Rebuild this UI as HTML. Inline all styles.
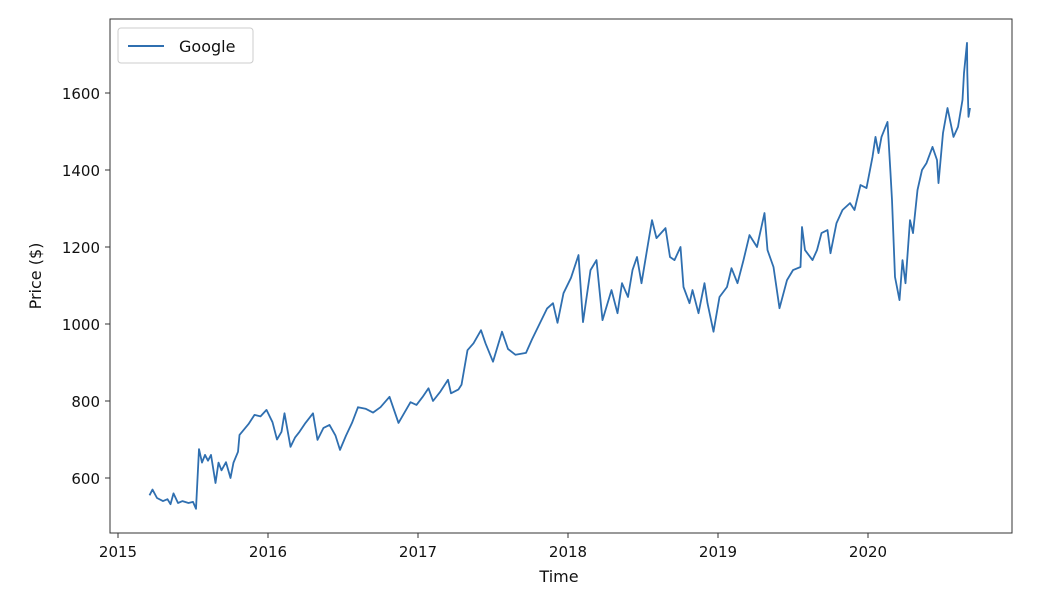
<!DOCTYPE html>
<html><head><meta charset="utf-8"><style>
body{margin:0;background:#fff;width:1042px;height:600px;overflow:hidden}
svg{font-family:"DejaVu Sans","Liberation Sans",sans-serif}
</style></head><body>
<svg id="chart" width="1042" height="600" viewBox="0 0 1042 600">
<rect x="110" y="19" width="902" height="514" fill="#fff" stroke="#333" stroke-width="1"/>
<g id="xt"></g>
<g id="yt"></g>
<path id="line" fill="none" stroke="#2f6fb0" stroke-width="1.8" stroke-linejoin="round"/>
<text x="559" y="582" font-size="16" text-anchor="middle" fill="#111">Time</text>
<text x="41" y="276" font-size="16" text-anchor="middle" fill="#111" transform="rotate(-90 41 276)">Price ($)</text>
<g>
<rect x="118" y="28" width="135" height="35" rx="3" fill="#fff" stroke="#ccc"/>
<line x1="128" y1="46" x2="164" y2="46" stroke="#2f6fb0" stroke-width="2"/>
<text x="179" y="52" font-size="16" fill="#111">Google</text>
</g>
</svg>
<script>
const dates=[2015.21,2015.23,2015.26,2015.30,2015.33,2015.35,2015.37,2015.40,2015.43,2015.47,2015.50,2015.52,2015.54,2015.56,2015.58,2015.60,2015.62,2015.65,2015.67,2015.69,2015.72,2015.75,2015.77,2015.80,2015.81,2015.87,2015.91,2015.95,2015.99,2016.03,2016.06,2016.09,2016.11,2016.15,2016.18,2016.21,2016.25,2016.30,2016.33,2016.37,2016.41,2016.45,2016.48,2016.52,2016.56,2016.60,2016.65,2016.70,2016.75,2016.81,2016.87,2016.91,2016.95,2016.99,2017.03,2017.07,2017.10,2017.15,2017.20,2017.22,2017.27,2017.29,2017.33,2017.37,2017.42,2017.45,2017.50,2017.56,2017.60,2017.65,2017.72,2017.76,2017.81,2017.86,2017.90,2017.93,2017.97,2018.02,2018.07,2018.10,2018.15,2018.19,2018.23,2018.29,2018.33,2018.36,2018.40,2018.43,2018.46,2018.49,2018.53,2018.56,2018.59,2018.65,2018.68,2018.71,2018.75,2018.77,2018.81,2018.83,2018.87,2018.91,2018.93,2018.97,2019.01,2019.06,2019.09,2019.13,2019.17,2019.21,2019.26,2019.31,2019.33,2019.37,2019.41,2019.46,2019.50,2019.55,2019.56,2019.58,2019.63,2019.66,2019.69,2019.73,2019.75,2019.79,2019.83,2019.88,2019.91,2019.95,2019.99,2020.03,2020.05,2020.07,2020.09,2020.13,2020.15,2020.16,2020.18,2020.21,2020.23,2020.25,2020.28,2020.30,2020.33,2020.36,2020.39,2020.43,2020.46,2020.47,2020.50,2020.53,2020.57,2020.60,2020.63,2020.64,2020.66,2020.662,2020.67,2020.68];
const prices=[555,570,548,540,545,532,560,535,540,535,538,520,675,640,660,645,660,587,640,620,641,600,640,668,712,740,764,760,777,745,700,720,768,681,705,720,743,768,699,730,738,710,673,710,743,784,780,770,784,811,743,770,797,790,810,833,800,825,855,820,830,842,932,950,984,950,902,980,935,920,925,960,1000,1040,1054,1003,1080,1120,1179,1005,1140,1166,1010,1088,1028,1106,1070,1140,1174,1106,1200,1270,1223,1249,1174,1166,1200,1096,1054,1088,1028,1106,1054,980,1070,1096,1145,1106,1166,1231,1200,1288,1192,1148,1041,1114,1140,1148,1252,1192,1166,1192,1236,1244,1184,1262,1296,1314,1296,1361,1353,1434,1486,1444,1486,1525,1392,1322,1122,1062,1166,1106,1270,1236,1348,1400,1418,1460,1426,1366,1496,1561,1486,1512,1582,1652,1730,1652,1538,1561];
const yTicks=[600,800,1000,1200,1400,1600];
const xTicks=[2015,2016,2017,2018,2019,2020];
const X=v=>118+(v-2015)*150;
const Y=v=>478-(v-600)*0.385;
const ns="http://www.w3.org/2000/svg";
const xt=document.getElementById('xt'),yt=document.getElementById('yt');
xTicks.forEach(t=>{
 const l=document.createElementNS(ns,'line');
 l.setAttribute('x1',X(t));l.setAttribute('x2',X(t));l.setAttribute('y1',533);l.setAttribute('y2',538);l.setAttribute('stroke','#333');
 
 
 xt.appendChild(l);
 const tx=document.createElementNS(ns,'text');
 tx.setAttribute('x',X(t));tx.setAttribute('y',557);tx.setAttribute('font-size','15');tx.setAttribute('text-anchor','middle');tx.setAttribute('fill','#111');
 tx.textContent=t;
 
 
 xt.appendChild(tx);
});
yTicks.forEach(t=>{
 const l=document.createElementNS(ns,'line');
 l.setAttribute('x1',105);l.setAttribute('x2',110);l.setAttribute('y1',Y(t));l.setAttribute('y2',Y(t));l.setAttribute('stroke','#333');
 
 
 yt.appendChild(l);
 const tx=document.createElementNS(ns,'text');
 tx.setAttribute('x',100);tx.setAttribute('y',Y(t)+6);tx.setAttribute('font-size','15');tx.setAttribute('text-anchor','end');tx.setAttribute('fill','#111');
 tx.textContent=t;
 
 
 yt.appendChild(tx);
});
document.getElementById('line').setAttribute('d',dates.map((d,i)=>(i?'L':'M')+X(d).toFixed(1)+' '+Y(prices[i]).toFixed(1)).join(' '));
</script>
</body></html>
